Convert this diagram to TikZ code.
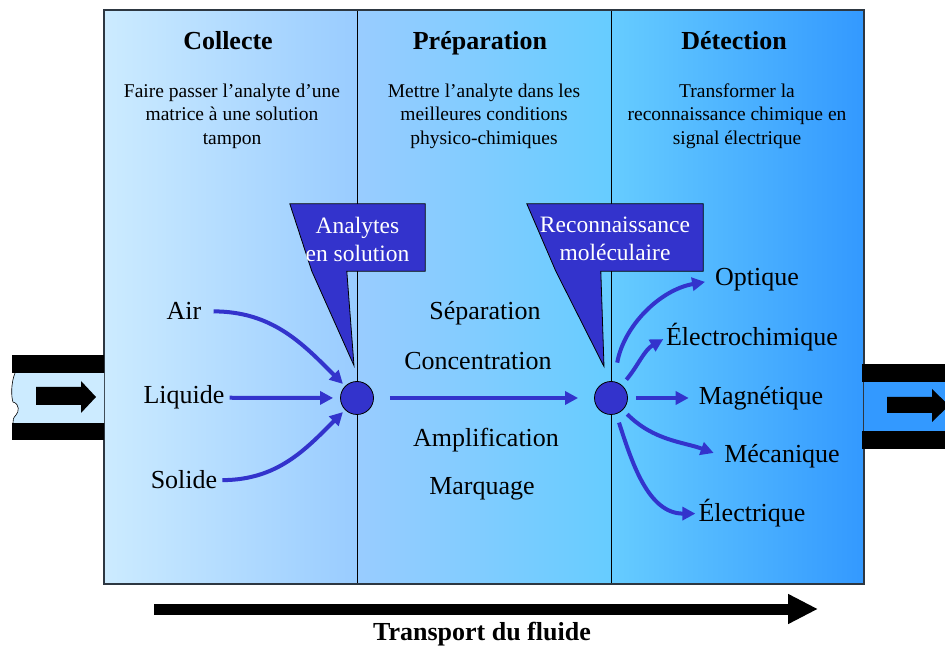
\documentclass[tikz,border=0pt]{standalone}
\usepackage{fontspec}
\setmainfont{Liberation Serif}
\usepackage{xcolor}
\usetikzlibrary{positioning,arrows.meta,calc}
\definecolor{paleblue}{RGB}{204,235,255}
\definecolor{skyblue}{RGB}{153,204,255}
\definecolor{lightcyan}{RGB}{102,204,255}
\definecolor{deepblue}{RGB}{51,153,255}
\definecolor{indigo}{RGB}{51,51,204}
\definecolor{framegray}{RGB}{45,55,65}

\begin{document}
\begin{tikzpicture}[x=1pt,y=1pt,
            title/.style={font=\fontsize{26}{31}\selectfont\bfseries,anchor=base,inner sep=0pt},
            desc/.style={font=\fontsize{19.5}{23.5}\selectfont,align=center,inner sep=0pt},
            word/.style={font=\fontsize{26}{31}\selectfont,anchor=base,inner sep=0pt},
            hub/.style={circle,draw=black,fill=indigo,minimum size=33pt,inner sep=0pt,line width=0.8pt},
            flow/.style={draw=indigo,line width=4pt,-{Triangle[length=13pt,width=13pt]}},
            bubble/.style={fill=indigo,draw=black,line width=0.8pt,line join=miter},
            bubblebox/.style={minimum height=67pt,inner sep=0pt},
            bubbletext/.style={text=white,font=\fontsize{23.5}{28}\selectfont,align=center,inner sep=0pt},
            pipe/.style={fill=black}]

            \useasboundingbox (0,0) rectangle (945,648);

            \shade[left color=paleblue,right color=skyblue] (104,64) rectangle (357,638);
            \shade[left color=skyblue,right color=lightcyan] (357,64) rectangle (611,638);
            \shade[left color=lightcyan,right color=deepblue] (611,64) rectangle (864,638);
            \draw[line width=0.9pt] (357,64) -- (357,638) (611,64) -- (611,638);
            \draw[framegray,line width=1.5pt] (104,64) rectangle (864,638);

            \node[title] (collecte) at (228,598) {Collecte};
            \node[title] (preparation) at (480,598) {Préparation};
            \node[title] (detection) at (734,598) {Détection};
            \node[desc] (collecteinfo) at (232,532) {Faire passer l’analyte d’une\\matrice à une solution\\tampon};
            \node[desc] (preparationinfo) at (484,532) {Mettre l’analyte dans les\\meilleures conditions\\physico-chimiques};
            \node[desc] (detectioninfo) at (737,532) {Transformer la\\reconnaissance chimique en\\signal électrique};

            \fill[paleblue] (15,275) .. controls (11,265) and (11,252) .. (13,246) .. controls (20,244) and (19,236) .. (16,233) .. controls (13,230) and (13,228) .. (13,225) -- (104,225) -- (104,275) -- cycle;
            \draw[line width=0.6pt] (15,275) .. controls (11,265) and (11,252) .. (13,246) .. controls (20,244) and (19,236) .. (16,233) .. controls (13,230) and (13,228) .. (13,225);
            \fill[pipe] (12,275) rectangle (104,293);
            \fill[pipe] (12,208) rectangle (104,225);
            \fill[pipe] (36,243) -- (81,243) -- (81,235) -- (96,251) -- (81,267) -- (81,261) -- (36,261) -- cycle;

            \fill[deepblue] (864,217) rectangle (945,266);
            \fill[pipe] (862,266) rectangle (945,284);
            \fill[pipe] (862,199) rectangle (945,217);
            \fill[pipe] (887,235) -- (932,235) -- (932,226) -- (949,242.5) -- (932,259) -- (932,251) -- (887,251) -- cycle;

            \node[hub] (hubA) at (357,250) {};
            \node[hub] (hubB) at (611,250) {};

            \node[bubblebox,minimum width=135pt] (boxA) at (357.5,410.5) {};
            \coordinate (tipA) at ([xshift=-3pt,yshift=15.5pt]hubA.north);
            \draw[bubble] (boxA.north west) -- (boxA.north east) -- (boxA.south east) -- ([xshift=57pt]boxA.south west) -- (tipA) -- ([xshift=22pt]boxA.south west) -- cycle;
            \node[bubbletext] (textA) at ([yshift=-1.5pt]boxA.center) {Analytes\\en solution};

            \node[bubblebox,minimum width=176pt] (boxB) at (615,410.5) {};
            \coordinate (tipB) at ([xshift=-7pt,yshift=14.5pt]hubB.north);
            \draw[bubble] (boxB.north west) -- (boxB.north east) -- (boxB.south east) -- ([xshift=74pt]boxB.south west) -- (tipB) -- ([xshift=29pt]boxB.south west) -- cycle;
            \node[bubbletext] (textB) at ([yshift=-1.5pt]boxB.center) {Reconnaissance\\moléculaire};

            \node[word] (air) at (184,328) {Air};
            \node[word] (liquide) at (184,244) {Liquide};
            \node[word] (solide) at (184,159) {Solide};
            \draw[flow,shorten >=3pt] ([xshift=12pt]air.east) to[out=0,in=135] (hubA);
            \draw[flow,shorten >=7pt] ([xshift=5pt]liquide.east) -- (hubA);
            \draw[flow,shorten >=3pt] ([xshift=5pt]solide.east) to[out=0,in=225] (hubA);

            \node[word] (separation) at (485,328.5) {Séparation};
            \node[word] (concentration) at (478,278) {Concentration};
            \node[word] (amplification) at (486,201) {Amplification};
            \node[word] (marquage) at (482,153) {Marquage};
            \draw[flow,shorten <=16pt,shorten >=16pt] (hubA) -- (hubB);

            \node[word] (optique) at (757,362) {Optique};
            \node[word] (electro) at (752,302) {Électrochimique};
            \node[word] (magnetique) at (761,243) {Magnétique};
            \node[word] (mecanique) at (782,185) {Mécanique};
            \node[word] (electrique) at (752,126) {Électrique};
            \draw[flow,shorten <=19pt,shorten >=10pt] (hubB) to[out=80,in=190] (optique.west);
            \draw[flow,shorten <=7pt,shorten >=3pt] (hubB) to[out=50,in=210] (electro.west);
            \draw[flow,shorten <=8pt,shorten >=10pt] (hubB) -- (hubB -| magnetique.west);
            \draw[flow,shorten <=6pt,shorten >=11pt] (hubB) to[out=-45,in=160] (mecanique.west);
            \draw[flow,shorten <=9pt,shorten >=3pt] (hubB) to[out=-72,in=180] (electrique.west);

            \coordinate (flowstart) at (154,39);
            \coordinate (flowend) at (818,39);
            \draw[line width=11pt,-{Triangle[length=30pt,width=28pt]}] (flowstart) -- (flowend);
            \node[font=\fontsize{26}{31}\selectfont\bfseries,anchor=base,inner sep=0pt] (transport) at (482,8) {Transport du fluide};
         \end{tikzpicture}
\end{document}
